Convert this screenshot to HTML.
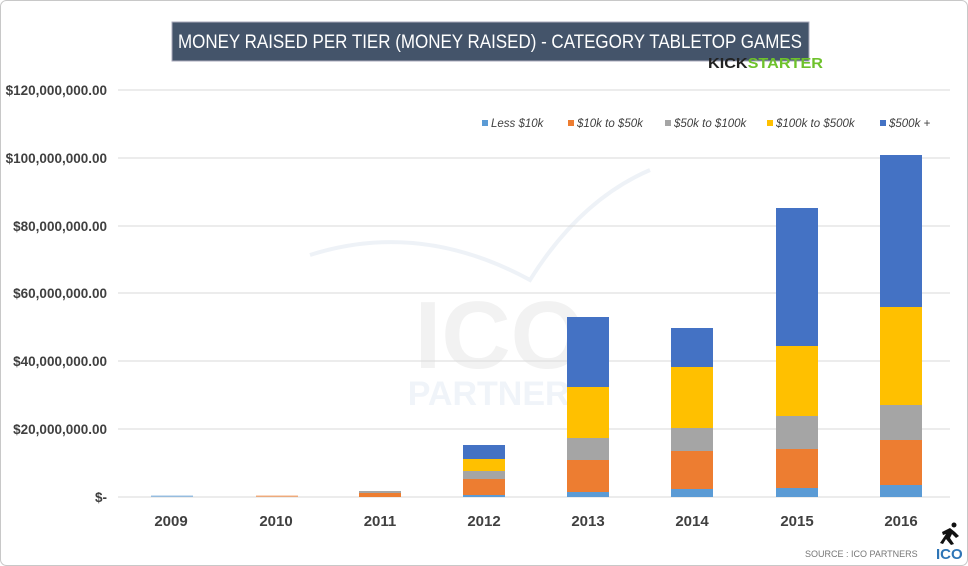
<!DOCTYPE html>
<html><head><meta charset="utf-8"><style>
body{margin:0;background:#fff;}
svg{display:block;font-family:"Liberation Sans",sans-serif;}
</style></head><body>
<svg width="968" height="566" viewBox="0 0 968 566">
<rect x="0.5" y="0.5" width="967" height="565" rx="6" fill="#fff" stroke="#c8c8c8"/>
<rect x="172" y="22" width="637" height="39" fill="#44546a" stroke="#aab" />
<text x="178" y="48" textLength="624" lengthAdjust="spacingAndGlyphs" fill="#fff" font-size="19">MONEY RAISED PER TIER (MONEY RAISED) - CATEGORY TABLETOP GAMES</text>
<text x="708" y="68" font-size="15" font-weight="bold" fill="#222" textLength="115" lengthAdjust="spacingAndGlyphs">KICK<tspan fill="#6ec22b">STARTER</tspan></text>
<!-- watermark -->
<text x="500" y="368" text-anchor="middle" font-size="96" font-weight="bold" fill="#f2f2f2">ICO</text>
<text x="500" y="405" text-anchor="middle" font-size="34" font-weight="bold" fill="#f0f4f9">PARTNERS</text>
<path d="M310 255 Q420 220 530 280 Q580 200 650 170" fill="none" stroke="#eef2f7" stroke-width="4"/>
<g stroke="#d9d9d9" stroke-width="1">
<line x1="118" y1="90" x2="950" y2="90"/><line x1="118" y1="158" x2="950" y2="158"/>
<line x1="118" y1="226" x2="950" y2="226"/><line x1="118" y1="293" x2="950" y2="293"/>
<line x1="118" y1="361" x2="950" y2="361"/><line x1="118" y1="429" x2="950" y2="429"/>
<line x1="118" y1="497" x2="950" y2="497"/></g>
<g font-size="13.5" font-weight="bold" fill="#404040" text-anchor="end">
<text x="107" y="95">$120,000,000.00</text><text x="107" y="163">$100,000,000.00</text>
<text x="107" y="231">$80,000,000.00</text><text x="107" y="298">$60,000,000.00</text>
<text x="107" y="366">$40,000,000.00</text><text x="107" y="434">$20,000,000.00</text>
<text x="107" y="502">$-</text></g>
<g font-size="15" font-weight="bold" fill="#404040" text-anchor="middle">
<text x="171" y="526">2009</text><text x="276" y="526">2010</text><text x="380" y="526">2011</text>
<text x="484" y="526">2012</text><text x="588" y="526">2013</text><text x="692" y="526">2014</text>
<text x="797" y="526">2015</text><text x="901" y="526">2016</text></g>
<g>
<rect x="151" y="495.5" width="42" height="1.5" fill="#5b9bd5" opacity=".6"/>
<rect x="256" y="495.5" width="42" height="1.5" fill="#ed7d31" opacity=".6"/>
<rect x="359" y="491" width="42" height="2" fill="#a5a5a5"/><rect x="359" y="493" width="42" height="4" fill="#ed7d31"/>
<rect x="463" y="445" width="42" height="14" fill="#4472c4"/><rect x="463" y="459" width="42" height="12" fill="#ffc000"/>
<rect x="463" y="471" width="42" height="8" fill="#a5a5a5"/><rect x="463" y="479" width="42" height="16" fill="#ed7d31"/>
<rect x="463" y="495" width="42" height="2" fill="#5b9bd5"/>
<rect x="567" y="317" width="42" height="70" fill="#4472c4"/><rect x="567" y="387" width="42" height="51" fill="#ffc000"/>
<rect x="567" y="438" width="42" height="22" fill="#a5a5a5"/><rect x="567" y="460" width="42" height="32" fill="#ed7d31"/>
<rect x="567" y="492" width="42" height="5" fill="#5b9bd5"/>
<rect x="671" y="328" width="42" height="39" fill="#4472c4"/><rect x="671" y="367" width="42" height="61" fill="#ffc000"/>
<rect x="671" y="428" width="42" height="23" fill="#a5a5a5"/><rect x="671" y="451" width="42" height="38" fill="#ed7d31"/>
<rect x="671" y="489" width="42" height="8" fill="#5b9bd5"/>
<rect x="776" y="208" width="42" height="138" fill="#4472c4"/><rect x="776" y="346" width="42" height="70" fill="#ffc000"/>
<rect x="776" y="416" width="42" height="33" fill="#a5a5a5"/><rect x="776" y="449" width="42" height="39" fill="#ed7d31"/>
<rect x="776" y="488" width="42" height="9" fill="#5b9bd5"/>
<rect x="880" y="155" width="42" height="152" fill="#4472c4"/><rect x="880" y="307" width="42" height="98" fill="#ffc000"/>
<rect x="880" y="405" width="42" height="35" fill="#a5a5a5"/><rect x="880" y="440" width="42" height="45" fill="#ed7d31"/>
<rect x="880" y="485" width="42" height="12" fill="#5b9bd5"/>
</g>
<g font-size="11.5" font-style="italic" fill="#404040">
<rect x="482" y="120" width="6" height="6" fill="#5b9bd5"/><text x="491" y="127">Less $10k</text>
<rect x="568" y="120" width="6" height="6" fill="#ed7d31"/><text x="577" y="127">$10k to $50k</text>
<rect x="665" y="120" width="6" height="6" fill="#a5a5a5"/><text x="674" y="127">$50k to $100k</text>
<rect x="767" y="120" width="6" height="6" fill="#ffc000"/><text x="776" y="127">$100k to $500k</text>
<rect x="880" y="120" width="6" height="6" fill="#4472c4"/><text x="889" y="127">$500k +</text>
</g>
<text x="805" y="557" font-size="9" fill="#777">SOURCE : ICO PARTNERS</text>
<text x="936" y="559" font-size="15" font-weight="bold" fill="#2e75b6">ICO</text>
<g fill="#111"><circle cx="954" cy="525" r="2.5"/><path d="M942 532 L950 528 L955 532 L959 536 L956 538 L952 534 L950 538 L954 544 L951 545 L946 539 L943 544 L940 543 L946 534 L943 535 Z"/></g>
</svg>
</body></html>
